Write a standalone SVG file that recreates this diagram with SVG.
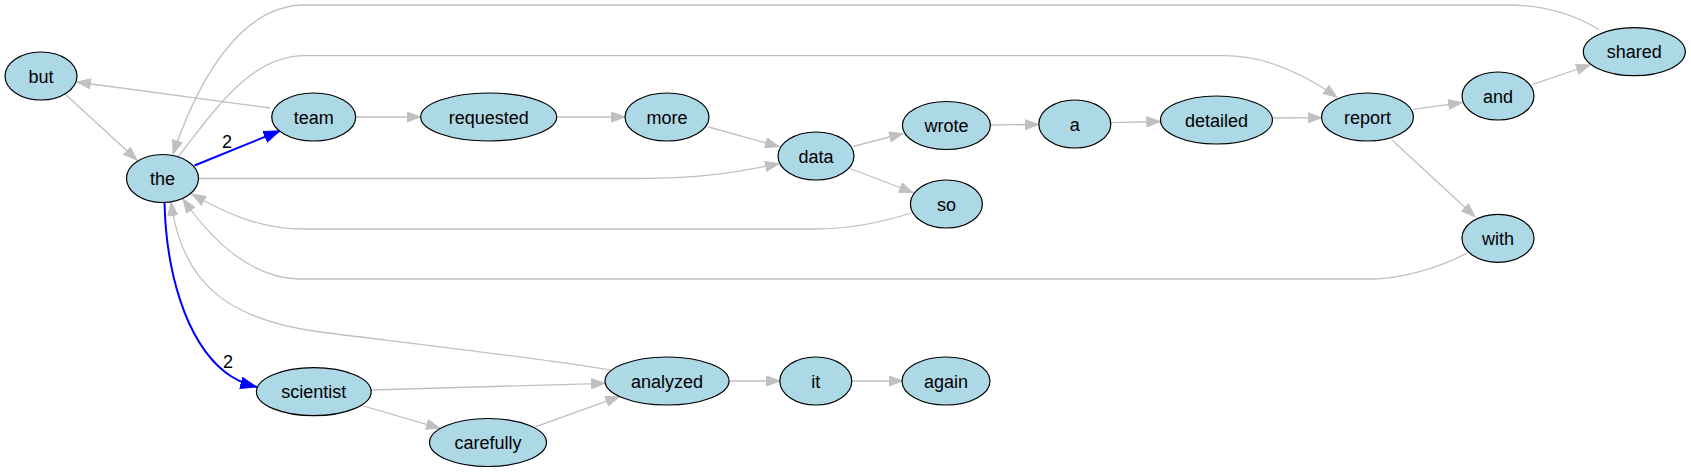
<svg xmlns="http://www.w3.org/2000/svg" width="1691" height="472" viewBox="0 0 1691 472">
<style>
.node ellipse{fill:#add8e6;stroke:#000;stroke-width:1.2}
.node text{font-family:"Liberation Sans",Arial,sans-serif;font-size:18px;fill:#000;text-anchor:middle}
.e{fill:none;stroke:#c0c0c0;stroke-width:1.3;marker-end:url(#ag)}
.b{fill:none;stroke:#0000ff;stroke-width:2;marker-end:url(#ab)}
.lbl{font-family:"Liberation Sans",Arial,sans-serif;font-size:18px;fill:#000;text-anchor:middle}
</style>
<defs>
<marker id="ag" markerWidth="15" markerHeight="11" refX="14" refY="5.5" orient="auto" markerUnits="userSpaceOnUse"><path d="M0.5,0.5 L14,5.5 L0.5,10.5 Z" fill="#c0c0c0" stroke="#c0c0c0" stroke-width="1"/></marker>
<marker id="ab" markerWidth="18" markerHeight="13" refX="16.5" refY="6.5" orient="auto" markerUnits="userSpaceOnUse"><path d="M0.5,0.8 L16.5,6.5 L0.5,12.2 Z" fill="#0000ff" stroke="#0000ff" stroke-width="1"/></marker>
</defs>
<rect width="1691" height="472" fill="#fff"/>
<g id="edges">
<path class="e" d="M270,108 L77,82"/>
<path class="e" d="M65,94 L137,160"/>
<path class="b" d="M194.5,165.5 L280,130.7"/>
<text class="lbl" x="227" y="148">2</text>
<path class="e" d="M355.5,117 L420.5,117"/>
<path class="e" d="M557,117 L625,117"/>
<path class="e" d="M708.5,127 L779,146.5"/>
<path class="e" d="M198.5,178.5 L640,178.5 C700,178.5 740,172 779,163.5"/>
<path class="e" d="M853,146.5 L903,133.5"/>
<path class="e" d="M850,168.5 L913,192.5"/>
<path class="e" d="M990.5,125 L1038.6,124.5"/>
<path class="e" d="M1110.6,122.7 L1160.3,121.5"/>
<path class="e" d="M1272.5,118 L1321.7,117.7"/>
<path class="e" d="M178,157 C215,110 250,55.7 305,55.7 L1224,55.7 C1270,55.7 1310,78 1337,97.3"/>
<path class="e" d="M1413,109.3 L1462,102.7"/>
<path class="e" d="M1532.7,84.3 L1590,65"/>
<path class="e" d="M1599,29.5 C1570,12 1540,5 1507,5 L305,5 C250,5 205,60 173,154"/>
<path class="e" d="M1392,140 L1475,216.7"/>
<path class="e" d="M1467,253 C1440,268 1400,279 1370,279 L300,279 C255,279 215,245 183,199"/>
<path class="e" d="M911,213 C880,223 850,229 815,229 L303,229 C260,229 225,213 192,194"/>
<path class="e" d="M610,370 C570,362 450,348 320,332 C230,320 182,285 171,202"/>
<path class="b" d="M164.5,202.5 C166,270 185,340 225,372 C235,380 245,384 256.7,387"/>
<text class="lbl" x="228" y="368">2</text>
<path class="e" d="M371,390 L605,383.3"/>
<path class="e" d="M363.6,406 L440,428.3"/>
<path class="e" d="M535.8,426.7 L619.3,396.7"/>
<path class="e" d="M729,381 L780,381"/>
<path class="e" d="M851.6,381 L902.5,381"/>
</g>
<g id="n-but" class="node"><ellipse cx="41" cy="76" rx="36" ry="24"/><text x="41" y="82.5">but</text></g>
<g id="n-the" class="node"><ellipse cx="162.5" cy="178.5" rx="36" ry="24"/><text x="162.5" y="185">the</text></g>
<g id="n-team" class="node"><ellipse cx="313.7" cy="117" rx="42" ry="24"/><text x="313.7" y="123.5">team</text></g>
<g id="n-requested" class="node"><ellipse cx="488.7" cy="117" rx="68" ry="24"/><text x="488.7" y="123.5">requested</text></g>
<g id="n-more" class="node"><ellipse cx="667" cy="117" rx="42" ry="24"/><text x="667" y="123.5">more</text></g>
<g id="n-data" class="node"><ellipse cx="816" cy="156" rx="38" ry="24"/><text x="816" y="162.5">data</text></g>
<g id="n-wrote" class="node"><ellipse cx="946.4" cy="125.5" rx="44" ry="24"/><text x="946.4" y="132">wrote</text></g>
<g id="n-a" class="node"><ellipse cx="1074.8" cy="124" rx="36" ry="24"/><text x="1074.8" y="130.5">a</text></g>
<g id="n-so" class="node"><ellipse cx="946.4" cy="204" rx="36" ry="24"/><text x="946.4" y="210.5">so</text></g>
<g id="n-detailed" class="node"><ellipse cx="1216.5" cy="120" rx="56" ry="24"/><text x="1216.5" y="126.5">detailed</text></g>
<g id="n-report" class="node"><ellipse cx="1367.5" cy="117" rx="46" ry="24"/><text x="1367.5" y="123.5">report</text></g>
<g id="n-and" class="node"><ellipse cx="1498" cy="96" rx="36" ry="24"/><text x="1498" y="102.5">and</text></g>
<g id="n-shared" class="node"><ellipse cx="1634.3" cy="51.7" rx="51" ry="24"/><text x="1634.3" y="58.2">shared</text></g>
<g id="n-with" class="node"><ellipse cx="1498" cy="238.3" rx="36" ry="24"/><text x="1498" y="244.8">with</text></g>
<g id="n-scientist" class="node"><ellipse cx="313.8" cy="391.7" rx="57.4" ry="24"/><text x="313.8" y="398.2">scientist</text></g>
<g id="n-carefully" class="node"><ellipse cx="488" cy="442.5" rx="58.5" ry="24"/><text x="488" y="449">carefully</text></g>
<g id="n-analyzed" class="node"><ellipse cx="667" cy="381" rx="62" ry="24"/><text x="667" y="387.5">analyzed</text></g>
<g id="n-it" class="node"><ellipse cx="815.8" cy="381" rx="36" ry="24"/><text x="815.8" y="387.5">it</text></g>
<g id="n-again" class="node"><ellipse cx="946" cy="381" rx="44" ry="24"/><text x="946" y="387.5">again</text></g>
</svg>
